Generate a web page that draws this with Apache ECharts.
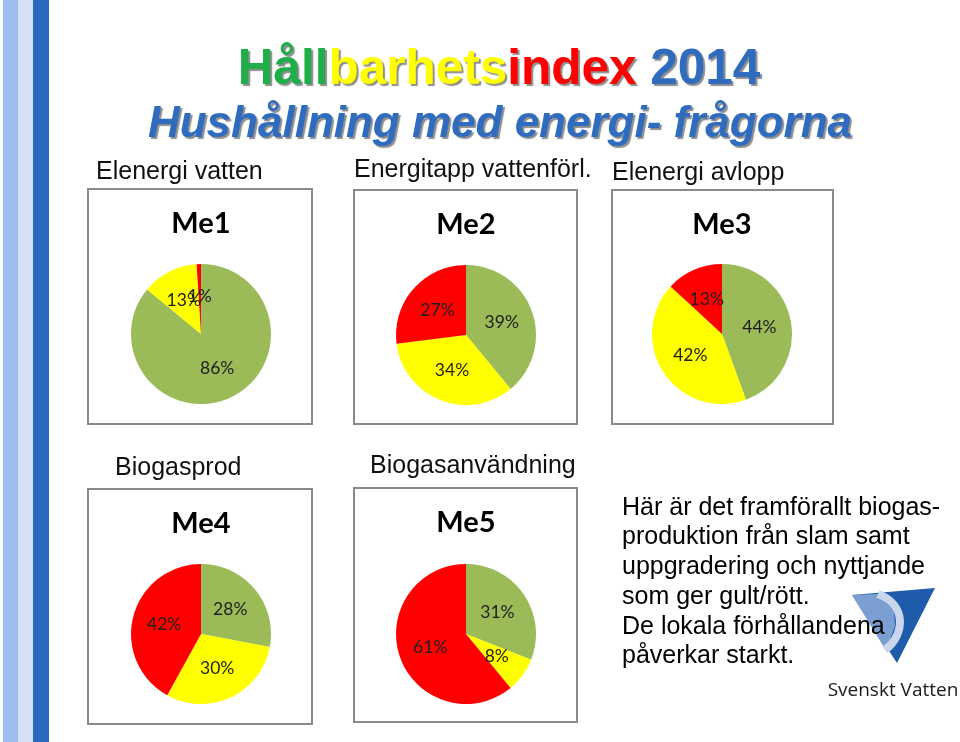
<!DOCTYPE html>
<html>
<head>
<meta charset="utf-8">
<script src="https://cdn.jsdelivr.net/npm/echarts@6/dist/echarts.min.js"></script>
<style>
html,body{margin:0;padding:0;background:#fff;}
#c{width:960px;height:742px;}
</style>
</head>
<body>
<div id="c"></div>
<script>
// ---- data ----
const chartTitles = ['Me1', 'Me2', 'Me3', 'Me4', 'Me5'];
const questionLabels = ['Elenergi vatten', 'Energitapp vattenförl.', 'Elenergi avlopp', 'Biogasprod', 'Biogasanvändning'];
const categories = ['Grön', 'Gul', 'Röd'];
const greenValues = [86, 39, 44, 28, 31];
const yellowValues = [13, 34, 42, 30, 8];
const redValues = [1, 27, 13, 42, 61];
const mainTitleParts = ['Håll', 'barhets', 'index', ' 2014'];
const subTitle = 'Hushållning med energi- frågorna';
const bodyLines = [
  'Här är det framförallt biogas-',
  'produktion från slam samt',
  'uppgradering och nyttjande',
  'som ger gult/rött.',
  'De lokala förhållandena',
  'påverkar starkt.'
];
const logoText = 'Svenskt Vatten';

// ---- layout ----
const sliceColors = ['#9bbb59', '#ffff00', '#ff0000'];
const boxes = [
  {x: 88, y: 189, w: 224, h: 235, cx: 201, cy: 334, lx: 96, ly: 172},
  {x: 354, y: 190, w: 223, h: 234, cx: 466, cy: 335, lx: 354, ly: 170},
  {x: 612, y: 190, w: 221, h: 234, cx: 722, cy: 334, lx: 612, ly: 173},
  {x: 88, y: 489, w: 224, h: 235, cx: 201, cy: 634, lx: 115, ly: 468},
  {x: 354, y: 488, w: 223, h: 234, cx: 466, cy: 634, lx: 370, ly: 466}
];

const chart = echarts.init(document.getElementById('c'), null, {renderer: 'canvas'});

const graphics = [];
// left decorative stripes
graphics.push({type: 'rect', shape: {x: 3, y: 0, width: 15, height: 742}, style: {fill: '#9dbdf0'}, z: 0});
graphics.push({type: 'rect', shape: {x: 18, y: 0, width: 15, height: 742}, style: {fill: '#d6e0f6'}, z: 0});
graphics.push({type: 'rect', shape: {x: 33, y: 0, width: 16, height: 742}, style: {fill: '#2b6bbf'}, z: 0});

// main title
const shadow = {textShadowColor: 'rgba(80,80,80,0.65)', textShadowOffsetX: 2, textShadowOffsetY: 2, textShadowBlur: 1};
const tfont = 'bold 49.5px "Liberation Sans", Arial, sans-serif';
graphics.push({
  type: 'text', x: 499, y: 70, z: 5,
  style: {
    text: '{g|' + mainTitleParts[0] + '}{y|' + mainTitleParts[1] + '}{r|' + mainTitleParts[2] + '}{b|' + mainTitleParts[3] + '}',
    align: 'center', verticalAlign: 'middle',
    font: tfont,
    rich: {
      g: Object.assign({fill: '#1fae4a', font: tfont}, shadow),
      y: Object.assign({fill: '#ffff00', font: tfont}, shadow),
      r: Object.assign({fill: '#ff0000', font: tfont}, shadow),
      b: Object.assign({fill: '#2f6cbf', font: tfont}, shadow)
    }
  }
});
graphics.push({
  type: 'text', x: 500, y: 125, z: 5,
  style: Object.assign({
    text: subTitle, align: 'center', verticalAlign: 'middle',
    font: 'italic bold 44px "Liberation Sans", Arial, sans-serif', fill: '#2f6cc0'
  }, shadow)
});

// boxes, labels, Me titles
boxes.forEach((b, i) => {
  graphics.push({type: 'rect', z: 1, shape: {x: b.x, y: b.y, width: b.w, height: b.h},
    style: {fill: '#fff', stroke: '#8a8a8a', lineWidth: 2}});
  graphics.push({type: 'text', x: b.lx, y: b.ly, z: 5,
    style: {text: questionLabels[i], align: 'left', verticalAlign: 'middle',
      font: '25px "Liberation Sans", Arial, sans-serif', fill: '#111'}});
  graphics.push({type: 'text', x: b.cx, y: b.y + 35, z: 5,
    style: {text: chartTitles[i], align: 'center', verticalAlign: 'middle',
      font: 'bold 29px Lato, "Open Sans", sans-serif', fill: '#000'}});
});

// body text
graphics.push({type: 'text', x: 622, y: 493, z: 5,
  style: {text: bodyLines.join('\n'), align: 'left', verticalAlign: 'top',
    font: '25px "Liberation Sans", Arial, sans-serif', lineHeight: 29.7, fill: '#000'}});

// logo
graphics.push({type: 'polygon', z: 3, shape: {points: [[852, 595], [935, 588], [897, 663]]}, style: {fill: '#1e5cab'}});
graphics.push({type: 'polygon', z: 4, shape: {points: [[852, 595], [878, 594], [888, 600], [894, 612], [895, 626], [890, 640], [885, 649]]}, style: {fill: '#7c9fd3'}});
graphics.push({type: 'bezierCurve', z: 4, shape: {x1: 878, y1: 594, x2: 885, y2: 650, cpx1: 906, cpy1: 604, cpx2: 906, cpy2: 634},
  style: {stroke: '#c9d6ec', lineWidth: 8, fill: null}});
graphics.push({type: 'text', x: 893, y: 691, z: 5,
  style: {text: logoText, align: 'center', verticalAlign: 'middle',
    font: '19px "Open Sans", sans-serif', fill: '#1a1a1a'}});

const series = boxes.map((b, i) => ({
  type: 'pie',
  center: [b.cx, b.cy],
  radius: 70,
  startAngle: 90,
  clockwise: true,
  silent: true,
  animation: false,
  avoidLabelOverlap: false,
  minShowLabelAngle: 0,
  z: 3,
  label: {show: true, position: 'inside', formatter: '{c}%',
    fontFamily: 'Lato, "Open Sans", sans-serif', fontSize: 17.5, color: '#1e1e1e'},
  labelLine: {show: false},
  labelLayout: {hideOverlap: false},
  itemStyle: {borderWidth: 0},
  data: categories.map((c, k) => ({
    name: c,
    value: [greenValues, yellowValues, redValues][k][i],
    itemStyle: {color: sliceColors[k]}
  }))
}));

chart.setOption({
  backgroundColor: '#fff',
  animation: false,
  graphic: {elements: graphics},
  series: series
});
</script>
</body>
</html>
